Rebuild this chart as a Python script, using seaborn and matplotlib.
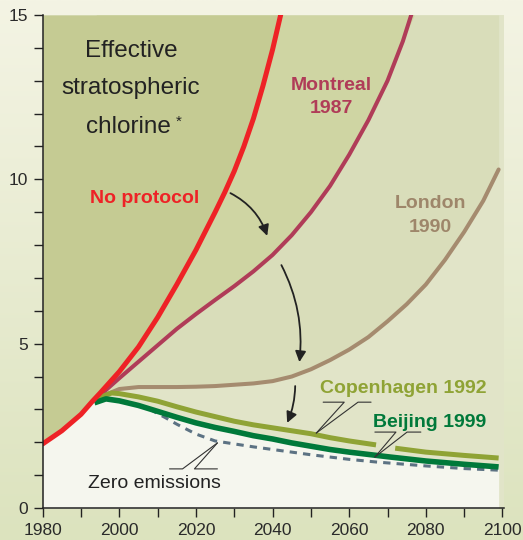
import numpy as np
import matplotlib
matplotlib.use("Agg")
import matplotlib.pyplot as plt
import seaborn as sns

## data (year, effective stratospheric chlorine)
years_none = [1980, 1985, 1990, 1993, 1995, 2000, 2005, 2010, 2015, 2020, 2025, 2027.5,
              2030, 2032.5, 2035, 2037.5, 2040, 2042.5]
no_protocol = [1.95, 2.35, 2.85, 3.25, 3.5, 4.15, 4.9, 5.8, 6.8, 7.85, 9.0, 9.6,
               10.25, 11.0, 11.85, 12.85, 13.95, 15.2]

years_montreal = [1994, 2000, 2005, 2010, 2015, 2020, 2025, 2030, 2035, 2040, 2045,
                  2050, 2055, 2060, 2065, 2070, 2074, 2077]
montreal = [3.33, 3.95, 4.45, 4.95, 5.45, 5.9, 6.33, 6.75, 7.2, 7.7, 8.3,
            9.0, 9.8, 10.75, 11.8, 13.0, 14.2, 15.3]

years_london = [1994, 2000, 2005, 2010, 2015, 2020, 2025, 2030, 2035, 2040, 2045, 2050,
                2055, 2060, 2065, 2070, 2075, 2080, 2085, 2090, 2095, 2099]
london = [3.33, 3.62, 3.68, 3.68, 3.68, 3.69, 3.71, 3.75, 3.79, 3.86, 4.0, 4.22,
          4.5, 4.82, 5.2, 5.68, 6.2, 6.8, 7.55, 8.4, 9.35, 10.3]

years_copen_a = [1994, 1998, 2000, 2005, 2010, 2015, 2020, 2025, 2030, 2035, 2040,
                 2045, 2050, 2055, 2060, 2067]
copenhagen_a = [3.33, 3.5, 3.48, 3.38, 3.25, 3.08, 2.92, 2.78, 2.64, 2.53, 2.44,
                2.35, 2.26, 2.14, 2.04, 1.92]
years_copen_b = [2072, 2080, 2090, 2099]
copenhagen_b = [1.82, 1.7, 1.6, 1.52]

years_beijing = [1993.5, 1996.5, 2000, 2005, 2010, 2015, 2020, 2025, 2030, 2035, 2040,
                 2045, 2050, 2055, 2060, 2065, 2070, 2080, 2090, 2099]
beijing = [3.2, 3.32, 3.26, 3.12, 2.94, 2.76, 2.59, 2.45, 2.33, 2.2, 2.1,
           1.98, 1.88, 1.78, 1.7, 1.63, 1.56, 1.43, 1.33, 1.25]

years_zero = [2008, 2012, 2015, 2020, 2025, 2030, 2035, 2040, 2050, 2060, 2067, 2080, 2090, 2099]
zero_emissions = [3.0, 2.75, 2.55, 2.25, 2.04, 1.95, 1.86, 1.78, 1.62, 1.48, 1.4, 1.28, 1.2, 1.15]

x_ticks = [1980, 2000, 2020, 2040, 2060, 2080, 2100]
y_ticks = [0, 5, 10, 15]

## colours
C_RED = "#ee2226"
C_MONT = "#b03c58"
C_LOND = "#a58b6f"
C_COPEN = "#8fa335"
C_BEIJ = "#00793a"
C_ZERO = "#5c7283"
F_DARK = "#c5cb93"
F_MID = "#cfd5a3"
F_LIGHT = "#d9ddba"
F_PALE = "#e1e4c8"
F_WHITE = "#f5f6ee"

sns.set_style("white")
plt.rcParams["font.family"] = ["Liberation Sans", "DejaVu Sans"]

fig = plt.figure(figsize=(5.23, 5.40), dpi=100)

# background gradient
bg = fig.add_axes([0, 0, 1, 1], zorder=-5)
top = np.array([0xf4, 0xf4, 0xe4]) / 255
bot = np.array([0xdc, 0xe3, 0xbe]) / 255
t = np.linspace(0, 1, 200)[:, None, None]
grad = top * (1 - t) + bot * t
bg.imshow(grad, aspect="auto", extent=[0, 1, 0, 1])
bg.axis("off")

ax = fig.add_axes([42.7 / 523, 32 / 540, (504 - 42.7) / 523, (508 - 15) / 540])
ax.set_facecolor(F_PALE)

# layered fills
ax.fill_between(years_london, london, 15, color=F_LIGHT, lw=0, zorder=1)
ax.fill_between(years_montreal, np.minimum(montreal, 15), 15, color=F_MID, lw=0, zorder=1)
ax.fill_between(years_none, np.minimum(no_protocol, 15), 15, color=F_DARK, lw=0, zorder=1)
yn = np.array(years_none)
mask = yn < 1993.5
white_x = np.concatenate([yn[mask], years_beijing])
white_y = np.concatenate([np.array(no_protocol)[mask], beijing])
ax.fill_between(white_x, 0, white_y, color=F_WHITE, lw=0, zorder=1)

# curves
sns.lineplot(x=years_zero, y=zero_emissions, ax=ax, color=C_ZERO, lw=2.2,
             linestyle=(0, (2.4, 2.0)), zorder=3)
sns.lineplot(x=years_london, y=london, ax=ax, color=C_LOND, lw=2.9, zorder=4)
sns.lineplot(x=years_montreal, y=montreal, ax=ax, color=C_MONT, lw=2.9, zorder=4)
sns.lineplot(x=years_copen_a, y=copenhagen_a, ax=ax, color=C_COPEN, lw=3.6,
             solid_capstyle="butt", zorder=4)
sns.lineplot(x=years_copen_b, y=copenhagen_b, ax=ax, color=C_COPEN, lw=3.6,
             solid_capstyle="butt", zorder=4)
sns.lineplot(x=years_beijing, y=beijing, ax=ax, color=C_BEIJ, lw=4.0,
             solid_capstyle="butt", zorder=5)
sns.lineplot(x=years_none, y=no_protocol, ax=ax, color=C_RED, lw=3.6, zorder=6)

ax.set_xlim(1980, 2100.4)
ax.set_ylim(0, 15)
ax.set_xlabel("")
ax.set_ylabel("")
ax.set_xticks(x_ticks)
ax.set_xticks(np.arange(1990, 2100, 20), minor=True)
ax.set_yticks(y_ticks)
ax.set_yticks(np.arange(1, 15), minor=True)
for s in ["top", "right"]:
    ax.spines[s].set_visible(False)
for s in ["left", "bottom"]:
    ax.spines[s].set_color("#222222")
    ax.spines[s].set_linewidth(1.1)
    ax.spines[s].set_zorder(7)
ax.tick_params(which="both", direction="out", length=6.5, width=1.0, color="#222222",
               labelsize=12.5, labelcolor="#2a2a2a", pad=4)
ax.tick_params(which="both", bottom=True, left=True)

# title block
big = dict(fontsize=17.5, color="#222222", ha="center", va="baseline", zorder=8)
ax.text(2003.2, 13.72, "Effective", **big)
ax.text(2003.0, 12.60, "stratospheric", **big)
ax.text(2002.5, 11.41, "chlorine", **big)
ax.text(2015.4, 11.75, "*", fontsize=11, color="#222222", ha="center", va="center", zorder=8)

lab = dict(fontsize=14, fontweight="bold", ha="center", va="baseline", zorder=8)
ax.text(2006.5, 9.28, "No protocol", color=C_RED, **lab)
ax.text(2055.3, 12.72, "Montreal", color=C_MONT, **lab)
ax.text(2055.3, 12.02, "1987", color=C_MONT, **lab)
ax.text(2081.2, 9.13, "London", color="#9e866a", **lab)
ax.text(2081.2, 8.40, "1990", color="#9e866a", **lab)
ax.text(2074.2, 3.50, "Copenhagen 1992", color=C_COPEN, **lab)
ax.text(2081.0, 2.47, "Beijing 1999", color=C_BEIJ, **lab)
ax.text(2009.2, 0.60, "Zero emissions", fontsize=14, color="#222222",
        ha="center", va="baseline", zorder=8)

# leader lines
lead = dict(color="#333333", lw=0.8, zorder=8)
ax.plot([2053.2, 2058.7, 2051.4], [3.22, 3.22, 2.28], **lead)
ax.plot([2065.7, 2062.3, 2051.4], [3.22, 3.22, 2.28], **lead)
ax.plot([2066.7, 2072.2, 2066.7], [2.31, 2.31, 1.55], **lead)
ax.plot([2078.7, 2075.1, 2066.7], [2.31, 2.31, 1.55], **lead)
ax.plot([2013.1, 2016.5, 2025.6], [1.19, 1.19, 1.98], **lead)
ax.plot([2025.6, 2019.6, 2025.6], [1.19, 1.19, 1.98], **lead)

# arrows
arr = dict(arrowstyle="-|>", color="#222222", lw=1.3, mutation_scale=16, shrinkA=0, shrinkB=0)
ax.annotate("", xy=(2038.6, 8.28), xytext=(2029.0, 9.58),
            arrowprops=dict(connectionstyle="arc3,rad=-0.2", **arr), zorder=8)
ax.annotate("", xy=(2047.0, 4.44), xytext=(2042.3, 7.39),
            arrowprops=dict(connectionstyle="arc3,rad=-0.15", **arr), zorder=8)
ax.annotate("", xy=(2043.8, 2.59), xytext=(2045.9, 3.71),
            arrowprops=dict(connectionstyle="arc3,rad=-0.1", **arr), zorder=8)

fig.savefig("out.png", dpi=100)
